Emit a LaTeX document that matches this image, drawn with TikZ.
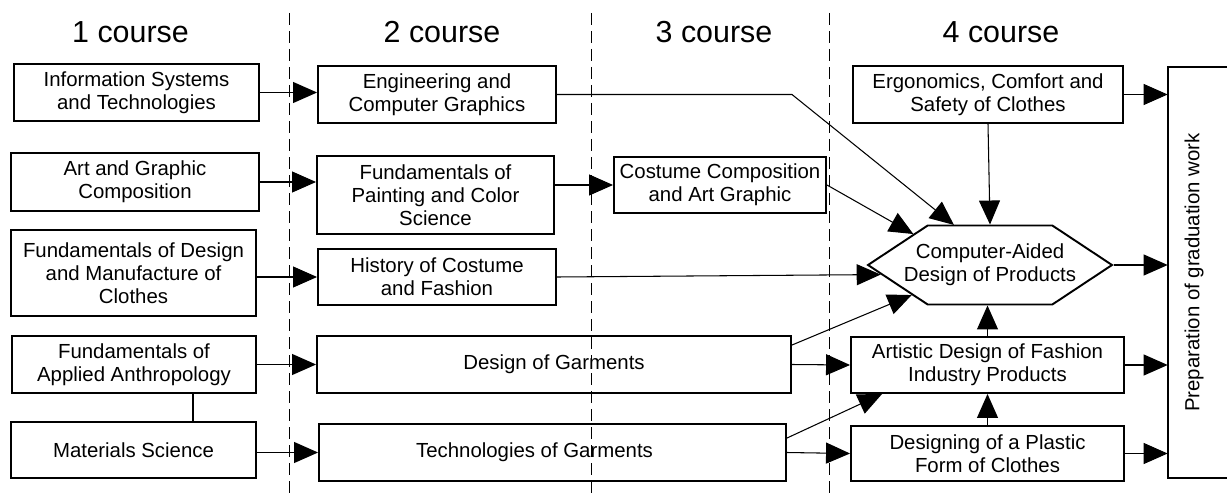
\documentclass[tikz,border=0pt]{standalone}
\usepackage{fontspec}
\setmainfont{Liberation Sans}
\usetikzlibrary{arrows.meta}
\usetikzlibrary{shapes.symbols}

\begin{document}
\begin{tikzpicture}[every node/.style={font=\fontsize{11.6}{13}\selectfont, align=center, inner sep=1pt},
					subj/.style={draw=black, line width=1.1pt, rectangle},
					course/.style={font=\fontsize{17.3}{20}\selectfont, anchor=base},
					arr/.style={line width=0.6pt, -{Triangle[length=0.48cm,width=0.42cm]}},
					sep/.style={line width=0.5pt, dash pattern=on 0.24cm off 0.12cm}]
\useasboundingbox (0,0) rectangle (24.54,-9.96);
% course headings
\node[course] (c1) at (2.61,-0.86) {1 course};
\node[course] (c2) at (8.84,-0.86) {2 course};
\node[course] (c3) at (14.28,-0.86) {3 course};
\node[course] (c4) at (20.02,-0.86) {4 course};
% borders between courses
\draw[sep] (5.78,-0.26) -- (5.78,-9.96);
\draw[sep] (11.82,-0.26) -- (11.82,-9.96);
\draw[sep] (16.58,-0.26) -- (16.58,-9.96);
% 1 course
\node[subj, minimum width=4.90cm, minimum height=1.14cm] (info) at (2.73,-1.85) {Information Systems\\and Technologies};
\node[subj, minimum width=4.96cm, minimum height=1.16cm] (art) at (2.70,-3.64) {Art and Graphic\\Composition};
\node[subj, minimum width=4.90cm, minimum height=1.72cm] (funddes) at (2.67,-5.46) {Fundamentals of Design\\and Manufacture of\\Clothes};
\node[subj, minimum width=4.88cm, minimum height=1.14cm] (anthro) at (2.68,-7.29) {Fundamentals of\\Applied Anthropology};
\node[subj, minimum width=4.90cm, minimum height=1.12cm] (mat) at (2.67,-9.00) {Materials Science};
% 2 course
\node[subj, minimum width=4.76cm, minimum height=1.14cm] (eng) at (8.74,-1.89) {Engineering and\\Computer Graphics};
\node[subj, minimum width=4.74cm, minimum height=1.56cm] (paint) at (8.71,-3.90) {Fundamentals of\\Painting and Color\\Science};
\node[subj, minimum width=4.76cm, minimum height=1.12cm] (hist) at (8.74,-5.54) {History of Costume\\and Fashion};
\node[subj, minimum width=9.48cm, minimum height=1.14cm] (dgar) at (11.08,-7.29) {Design of Garments};
\node[subj, minimum width=9.34cm, minimum height=1.14cm] (tgar) at (11.05,-9.05) {Technologies of Garments\hspace*{0.72cm}};
% 3 course
\node[subj, minimum width=4.24cm, minimum height=1.12cm] (cost) at (14.40,-3.70) {Costume Composition\\and Art Graphic};
% 4 course
\node[subj, minimum width=5.40cm, minimum height=1.14cm] (ergo) at (19.76,-1.89) {Ergonomics, Comfort and\\Safety of Clothes};
\node[subj, signal, signal to=east and west, signal pointer angle=67, minimum width=4.88cm, minimum height=1.58cm] (cad) at (19.80,-5.30) {\makebox[2.2cm]{Computer-Aided}\\\makebox[2.2cm]{Design of Products}};
\node[subj, minimum width=5.46cm, minimum height=1.12cm] (art4) at (19.75,-7.30) {Artistic Design of Fashion\\Industry Products};
\node[subj, minimum width=5.46cm, minimum height=1.10cm] (plastic) at (19.75,-9.07) {Designing of a Plastic\\Form of Clothes};
% graduation work, box open to the right
\node[rotate=90, minimum width=8.22cm, minimum height=1.04cm] (prep) at (23.88,-5.45) {Preparation of graduation work};
\draw[line width=1.1pt] ([xshift=1.5cm]prep.north east) -- (prep.north east) -- (prep.north west) -- ([xshift=1.5cm]prep.north west);

% links
\draw[line width=0.6pt] ([xshift=1.18cm]anthro.south) -- ([xshift=1.18cm]anthro.south |- mat.north);
\draw[arr] (info.east) -- (info.east -| eng.west);
\draw[arr] (art.east) -- (art.east -| paint.west);
\draw[arr] (hist.west -| funddes.east) -- (hist.west);
\draw[arr] (anthro.east) -- (dgar.west);
\draw[arr] (tgar.west -| mat.east) -- (tgar.west);
\draw[arr] (cost.west -| paint.east) -- (cost.west);
\draw[arr] (eng.east) -- (eng.east -| dgar.east) -- (cad.132);
\draw[arr] (cost.east) -- (cad.158);
\draw[arr] (hist.east) -- (cad.185);
\draw[arr] ([yshift=-0.2cm]dgar.north east) -- (cad.201);
\draw[arr] (dgar.east) -- (art4.west);
\draw[arr] ([yshift=-0.3cm]tgar.north east) -- ([xshift=0.64cm]art4.south west);
\draw[arr] (tgar.east) -- (plastic.west);
\draw[arr] (ergo.south) -- (cad.north);
\draw[arr] (art4.north) -- (art4.north |- cad.south);
\draw[arr] (plastic.north) -- (art4.south);
\draw[arr] (ergo.east) -- (ergo.east -| prep.north);
\draw[arr] (cad.east) -- (cad.east -| prep.north);
\draw[arr] (art4.east) -- (art4.east -| prep.north);
\draw[arr] (plastic.east) -- (plastic.east -| prep.north);
\end{tikzpicture}
\end{document}
